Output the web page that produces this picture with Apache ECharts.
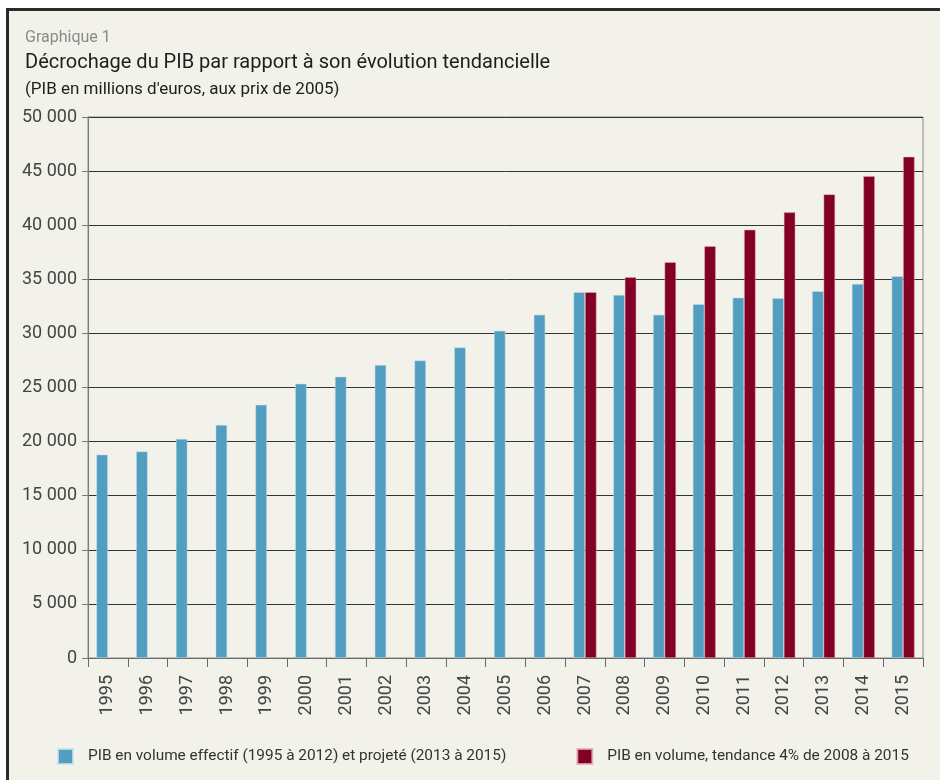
<!DOCTYPE html>
<html>
<head>
<meta charset="utf-8">
<script src="https://cdn.jsdelivr.net/npm/echarts@6/dist/echarts.min.js"></script>
<style>
	html, body { margin: 0; padding: 0; background: #ffffff; }
	#frame {
		position: absolute; left: 6px; top: 8px; width: 940px; height: 780px;
		border-left: 3px solid #2b2b2b; border-top: 3px solid #2b2b2b;
		background: #f2f1ea;
	}
	#chart { position: absolute; left: 0; top: 0; width: 940px; height: 780px; }
</style>
</head>
<body>
<div id="frame"></div>
<div id="chart"></div>
<script>
	// années
	var years = ['1995','1996','1997','1998','1999','2000','2001','2002','2003','2004','2005',
		'2006','2007','2008','2009','2010','2011','2012','2013','2014','2015'];
	// PIB effectif (1995-2012) et projeté (2013-2015)
	var pibEffectif = [18800, 19080, 20250, 21540, 23400, 25350, 26000, 27080, 27500, 28700, 30240,
		31720, 33810, 33560, 31720, 32700, 33310, 33260, 33900, 34580, 35290];
	// tendance 4% de 2008 à 2015
	var pibTendance = [null, null, null, null, null, null, null, null, null, null, null,
		null, 33810, 35190, 36580, 38050, 39580, 41190, 42850, 44540, 46320];
	var legendNames = ['PIB en volume effectif (1995 à 2012) et projeté (2013 à 2015)',
		'PIB en volume, tendance 4% de 2008 à 2015'];
	var yTicks = { min: 0, max: 50000, interval: 5000 };

	var font = 'Roboto';
	var option = {
		animation: false,
		textStyle: { fontFamily: font },
		title: [
			{ text: 'Graphique 1', left: 20, top: 25,
				textStyle: { fontSize: 16, fontWeight: 'normal', color: '#8a8a8a', fontFamily: font } },
			{ text: 'Décrochage du PIB par rapport à son évolution tendancielle', left: 20, top: 48,
				textStyle: { fontSize: 20, fontWeight: 'normal', color: '#1e1e1e', fontFamily: font } },
			{ text: '(PIB en millions d\'euros, aux prix de 2005)', left: 20, top: 76,
				textStyle: { fontSize: 17, fontWeight: 'normal', color: '#1e1e1e', fontFamily: font } }
		],
		legend: {
			data: legendNames,
			left: 52, top: 743,
			icon: 'rect', itemWidth: 15, itemHeight: 15,
			itemGap: 70,
			textStyle: { fontSize: 15.4, color: '#333', fontFamily: font, padding: [0, 0, 0, 10] }
		},
		grid: { left: 88, right: 17, top: 117, bottom: 122, show: true, borderColor: '#8a8a8a', borderWidth: 1 },
		xAxis: {
			type: 'category',
			data: years,
			axisLine: { lineStyle: { color: '#6a6a6a', width: 1 } },
			axisTick: { show: true, length: 9, alignWithLabel: false, lineStyle: { color: '#6a6a6a' } },
			axisLabel: { rotate: 90, interval: 0, margin: 17, fontSize: 18, color: '#444', fontFamily: font }
		},
		yAxis: {
			type: 'value',
			min: yTicks.min, max: yTicks.max, interval: yTicks.interval,
			axisLine: { show: true, lineStyle: { color: '#7a7a7a' } },
			axisTick: { show: true, length: 6, lineStyle: { color: '#7a7a7a' } },
			splitLine: { lineStyle: { color: '#333', width: 1 } },
			axisLabel: {
				margin: 11, fontSize: 18, color: '#444', fontFamily: font,
				formatter: function (v) { return String(v).replace(/\B(?=(\d{3})+(?!\d))/g, ' '); }
			}
		},
		series: [
			{
				name: legendNames[0], type: 'bar', data: pibEffectif,
				barWidth: 11.5, barGap: '0%',
				itemStyle: { color: '#519ec1', borderColor: 'rgba(200,225,235,0.8)', borderWidth: 0.6 }
			},
			{
				name: legendNames[1], type: 'bar', data: pibTendance,
				barWidth: 11.5, barGap: '0%',
				itemStyle: { color: '#820026', borderColor: 'rgba(230,170,185,0.8)', borderWidth: 0.6 }
			}
		]
	};
	echarts.init(document.getElementById('chart')).setOption(option);
</script>
</body>
</html>
